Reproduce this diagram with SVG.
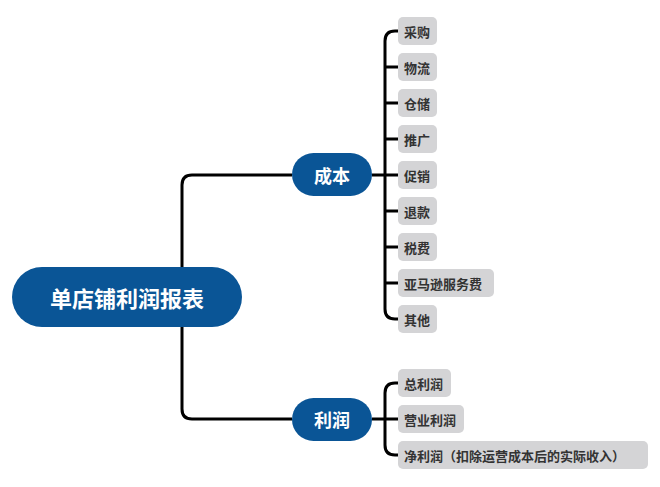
<svg xmlns="http://www.w3.org/2000/svg" width="660" height="487" viewBox="0 0 660 487">
<style>
.c{fill:none;stroke:#000;stroke-width:3}
.m{fill:#0a5596}
.mt{fill:#fff;font:bold 18px "Noto Sans CJK SC",sans-serif;text-anchor:middle;dominant-baseline:central}
.l{fill:#d4d4d6}
.lt{fill:#333;font:bold 13px "Noto Sans CJK SC",sans-serif;dominant-baseline:central}
</style>
<rect width="660" height="487" fill="#fff"/>
<g id="connectors">
<path class="c" d="M230 297 H182 M192 175 H292 M192 419 H292 M182 185 Q182 175 192 175 M182 185 V409 Q182 419 192 419"/>
<path class="c" d="M372 175 H398 M395 31 Q385 31 385 41 V309 Q385 319 395 319 H398 M385 67 Q385 67 398 67 M385 103 H398 M385 139 H398 M385 211 H398 M385 247 H398 M385 283 H398 M395 31 H398"/>
<path class="c" d="M372 419 H398 M395 383 Q385 383 385 393 V445 Q385 455 395 455 H398 M395 383 H398"/>
</g>
<g id="root"><rect class="m" x="12" y="267" width="230" height="60" rx="30"/><text class="mt" x="127" y="297" font-size="22" style="font-size:22px">单店铺利润报表</text></g>
<g id="cost"><rect class="m" x="292" y="153" width="80" height="43" rx="21.5"/><text class="mt" x="332" y="175">成本</text></g>
<g id="profit"><rect class="m" x="292" y="398" width="80" height="43" rx="21.5"/><text class="mt" x="332" y="419">利润</text></g>
<g id="l1"><rect class="l" x="398" y="17" width="39" height="28" rx="5"/><text class="lt" x="404" y="31">采购</text></g>
<g id="l2"><rect class="l" x="398" y="53" width="39" height="28" rx="5"/><text class="lt" x="404" y="67">物流</text></g>
<g id="l3"><rect class="l" x="398" y="89" width="39" height="28" rx="5"/><text class="lt" x="404" y="103">仓储</text></g>
<g id="l4"><rect class="l" x="398" y="125" width="39" height="28" rx="5"/><text class="lt" x="404" y="139">推广</text></g>
<g id="l5"><rect class="l" x="398" y="161" width="39" height="28" rx="5"/><text class="lt" x="404" y="175">促销</text></g>
<g id="l6"><rect class="l" x="398" y="197" width="39" height="28" rx="5"/><text class="lt" x="404" y="211">退款</text></g>
<g id="l7"><rect class="l" x="398" y="233" width="39" height="28" rx="5"/><text class="lt" x="404" y="247">税费</text></g>
<g id="l8"><rect class="l" x="398" y="269" width="96" height="28" rx="5"/><text class="lt" x="404" y="283">亚马逊服务费</text></g>
<g id="l9"><rect class="l" x="398" y="305" width="39" height="28" rx="5"/><text class="lt" x="404" y="319">其他</text></g>
<g id="p1"><rect class="l" x="398" y="369" width="53" height="28" rx="5"/><text class="lt" x="404" y="383">总利润</text></g>
<g id="p2"><rect class="l" x="398" y="405" width="66" height="28" rx="5"/><text class="lt" x="404" y="419">营业利润</text></g>
<g id="p3"><rect class="l" x="398" y="441" width="250" height="28" rx="5"/><text class="lt" x="404" y="455">净利润（扣除运营成本后的实际收入）</text></g>
</svg>
